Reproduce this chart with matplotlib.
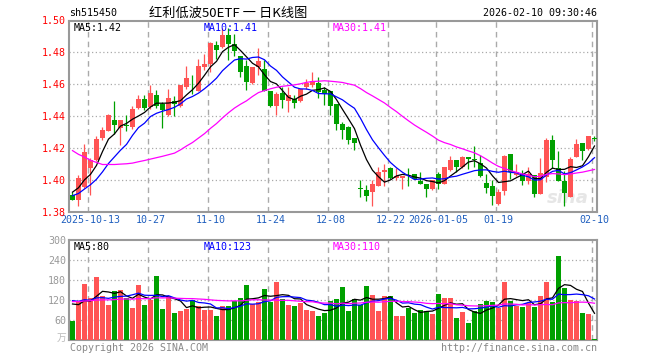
import numpy as np
import pandas as pd
import matplotlib
matplotlib.use("Agg")
from matplotlib import pyplot as plt

# daily bars of sh515450, 2025-09-30 .. 2026-02-10 (88 trading days)
opens = [1.3910, 1.3875, 1.3958, 1.4080, 1.4130, 1.4267, 1.4310, 1.4380, 1.4330, 1.4346,
         1.4333, 1.4454, 1.4506, 1.4458, 1.4531, 1.4479, 1.4406, 1.4496, 1.4463, 1.4583,
         1.4610, 1.4556, 1.4708, 1.4729, 1.4844, 1.4833, 1.4910, 1.4854, 1.4775, 1.4713,
         1.4610, 1.4708, 1.4694, 1.4558, 1.4465, 1.4546, 1.4494, 1.4506, 1.4494, 1.4583,
         1.4594, 1.4608, 1.4567, 1.4558, 1.4479, 1.4350, 1.4333, 1.4265, 1.3952, 1.3942,
         1.3927, 1.3965, 1.4052, 1.4077, 1.4017, 1.4015, 1.4027, 1.4042, 1.3994, 1.3980,
         1.3944, 1.4042, 1.3980, 1.4063, 1.4125, 1.4083, 1.4146, 1.4135, 1.4110, 1.3983,
         1.3965, 1.3850, 1.3933, 1.4163, 1.4031, 1.4031, 1.3996, 1.4031, 1.3913, 1.4021,
         1.4250, 1.4077, 1.3994, 1.3896, 1.4146, 1.4233, 1.4198, 1.4263]
highs = [1.3930, 1.4031, 1.4230, 1.4140, 1.4280, 1.4333, 1.4413, 1.4494, 1.4380, 1.4406,
         1.4463, 1.4531, 1.4531, 1.4594, 1.4563, 1.4490, 1.4573, 1.4525, 1.4594, 1.4715,
         1.4656, 1.4760, 1.4790, 1.4865, 1.4869, 1.4954, 1.4954, 1.4917, 1.4775, 1.4750,
         1.4708, 1.4829, 1.4750, 1.4558, 1.4552, 1.4583, 1.4583, 1.4531, 1.4573, 1.4635,
         1.4677, 1.4646, 1.4583, 1.4558, 1.4479, 1.4365, 1.4338, 1.4265, 1.4000, 1.3969,
         1.4000, 1.4083, 1.4100, 1.4083, 1.4077, 1.4027, 1.4077, 1.4042, 1.4052, 1.3980,
         1.4004, 1.4052, 1.4083, 1.4150, 1.4125, 1.4152, 1.4146, 1.4213, 1.4156, 1.4042,
         1.4000, 1.3948, 1.4156, 1.4163, 1.4104, 1.4063, 1.4083, 1.4031, 1.4140, 1.4265,
         1.4281, 1.4181, 1.4056, 1.4146, 1.4256, 1.4233, 1.4275, 1.4275]
lows = [1.3875, 1.3840, 1.3954, 1.3910, 1.4120, 1.4254, 1.4306, 1.4290, 1.4223, 1.4306,
        1.4323, 1.4448, 1.4438, 1.4448, 1.4454, 1.4330, 1.4400, 1.4400, 1.4460, 1.4573,
        1.4542, 1.4556, 1.4688, 1.4677, 1.4756, 1.4829, 1.4754, 1.4781, 1.4646, 1.4563,
        1.4604, 1.4656, 1.4558, 1.4458, 1.4406, 1.4454, 1.4427, 1.4454, 1.4490, 1.4573,
        1.4583, 1.4517, 1.4469, 1.4406, 1.4313, 1.4260, 1.4229, 1.4192, 1.3896, 1.3871,
        1.3840, 1.3963, 1.3965, 1.4010, 1.4004, 1.3948, 1.3965, 1.4006, 1.3975, 1.3896,
        1.3938, 1.3944, 1.3975, 1.4058, 1.4052, 1.4079, 1.4073, 1.4083, 1.4021, 1.3920,
        1.3844, 1.3848, 1.3910, 1.4006, 1.4025, 1.3969, 1.3975, 1.3896, 1.3913, 1.3990,
        1.4079, 1.3994, 1.3840, 1.3896, 1.4146, 1.4125, 1.4188, 1.4246]
closes = [1.3880, 1.4017, 1.4180, 1.4130, 1.4260, 1.4313, 1.4406, 1.4344, 1.4375, 1.4342,
          1.4446, 1.4506, 1.4454, 1.4546, 1.4463, 1.4442, 1.4513, 1.4480, 1.4594, 1.4642,
          1.4606, 1.4715, 1.4729, 1.4858, 1.4813, 1.4910, 1.4854, 1.4808, 1.4677, 1.4615,
          1.4708, 1.4744, 1.4558, 1.4465, 1.4542, 1.4500, 1.4531, 1.4485, 1.4573, 1.4608,
          1.4619, 1.4552, 1.4538, 1.4463, 1.4354, 1.4313, 1.4254, 1.4233, 1.3948, 1.3902,
          1.3979, 1.4052, 1.4063, 1.4017, 1.4027, 1.4027, 1.4025, 1.4010, 1.3980, 1.3948,
          1.4000, 1.3980, 1.4083, 1.4125, 1.4083, 1.4146, 1.4135, 1.4125, 1.4027, 1.3952,
          1.3902, 1.3927, 1.4150, 1.4052, 1.4052, 1.3996, 1.4038, 1.3917, 1.4048, 1.4250,
          1.4129, 1.3994, 1.3923, 1.4131, 1.4225, 1.4183, 1.4275, 1.4260]
# volume, in 万
volumes = [58, 115, 168, 125, 190, 132, 105, 147, 150, 127,
           97, 165, 105, 120, 193, 93, 132, 81, 87, 93,
           120, 102, 90, 90, 72, 102, 102, 117, 127, 165,
           108, 115, 153, 115, 175, 122, 105, 102, 112, 90,
           87, 72, 80, 118, 123, 160, 87, 123, 105, 162,
           135, 87, 132, 132, 72, 72, 97, 82, 90, 87,
           78, 138, 127, 127, 67, 85, 52, 87, 108, 117,
           115, 97, 175, 117, 102, 100, 110, 100, 132, 175,
           115, 252, 156, 121, 117, 82, 77, 3]

# 29 sessions before the window, only used to seed the moving averages
prior_closes = [1.472, 1.468, 1.475, 1.466, 1.470, 1.440, 1.435, 1.430, 1.428, 1.432,
                1.425, 1.422, 1.428, 1.420, 1.418, 1.422, 1.418, 1.398, 1.392, 1.395,
                1.388, 1.390, 1.386, 1.392, 1.385, 1.388, 1.393, 1.396, 1.398]
prior_volumes = [105, 120, 98, 130, 112, 108, 125, 100, 118, 115,
                 110, 122, 95, 130, 108, 116, 120, 104, 112, 122,
                 135, 120, 140, 118, 127, 125, 110, 130, 117]

holidays = ["2025-10-01", "2025-10-02", "2025-10-03", "2025-10-06", "2025-10-07",
            "2025-10-08", "2026-01-01", "2026-01-02"]
tick_dates = ["2025-10-13", "2025-10-27", "2025-11-10", "2025-11-24", "2025-12-08",
              "2025-12-22", "2026-01-05", "2026-01-19", "2026-02-10"]
tick_labels = ["2025-10-13", "10-27", "11-10", "11-24", "12-08",
               "12-22", "2026-01-05", "01-19", "02-10"]
ma_windows = [5, 10, 30]
ma_colors = ["black", "blue", "magenta"]

RED = "#ff5454"
GREEN = "#00a000"
GRID = "#aaaaaa"
FRAME = "#999999"
MONO = "DejaVu Sans Mono"

dates = pd.bdate_range("2025-09-30", "2026-02-10")
dates = dates[~dates.isin(pd.to_datetime(holidays))]
n = len(closes)
x = np.arange(n)

o = np.array(opens)
h = np.array(highs)
l = np.array(lows)
c = np.array(closes)
v = np.array(volumes)
up = c >= o
colors = np.where(up, RED, GREEN)

all_c = pd.Series(prior_closes + closes)
all_v = pd.Series(prior_volumes + volumes)
price_ma = [all_c.rolling(w).mean().values[-n:] for w in ma_windows]
vol_ma = [all_v.rolling(w).mean().values[-n:] for w in ma_windows]

tick_idx = [dates.get_loc(pd.Timestamp(d)) for d in tick_dates]

fig = plt.figure(figsize=(6.6, 3.6), dpi=100)
W, H = 660.0, 360.0
ax = fig.add_axes([69 / W, 1 - 212.3 / H, 528 / W, 191.8 / H])
vax = fig.add_axes([69 / W, 1 - 340 / H, 528 / W, 100 / H])

bw = 5 / 6.0
xlim = (-0.583, 87.42)

# ---- price panel
ax.vlines(x, l, h, colors=colors, linewidth=0.9, zorder=3)
body = np.maximum(np.abs(c - o), 0.0004)
ax.bar(x, body, bottom=np.minimum(o, c), width=bw, color=colors,
       linewidth=0, zorder=4)
for ma, col in zip(price_ma, ma_colors):
    ax.plot(x, ma, color=col, linewidth=0.9, zorder=5)

ax.set_xlim(*xlim)
ax.set_ylim(1.38, 1.50)
for yv in [1.40, 1.42, 1.44, 1.46, 1.48]:
    ax.axhline(yv, color=GRID, linestyle=(0, (1, 2)), linewidth=0.9, zorder=1)
for xi in tick_idx:
    ax.axvline(xi - 0.42, color=GRID, linestyle=(0, (4, 3)), linewidth=1, zorder=1)
ax.set_yticks([1.38, 1.40, 1.42, 1.44, 1.46, 1.48, 1.50])
ax.set_yticklabels(["%.2f" % t for t in ax.get_yticks()],
                   fontfamily=MONO, fontsize=7.2, color="#ff0000")
ax.set_xticks(tick_idx)
ax.set_xticklabels(tick_labels, fontfamily=MONO, fontsize=7.2, color="#1f5fbf")
ax.tick_params(length=0, pad=2)
for s in ax.spines.values():
    s.set_color(FRAME)
    s.set_linewidth(1.5)

ax.text(0.008, 0.985, "MA5:%.2f" % price_ma[0][-1], transform=ax.transAxes,
        ha="left", va="top", fontfamily=MONO, fontsize=7.2, color="black", zorder=6)
ax.text(0.255, 0.985, "MA10:%.2f" % price_ma[1][-1], transform=ax.transAxes,
        ha="left", va="top", fontfamily=MONO, fontsize=7.2, color="blue", zorder=6)
ax.text(0.5, 0.985, "MA30:%.2f" % price_ma[2][-1], transform=ax.transAxes,
        ha="left", va="top", fontfamily=MONO, fontsize=7.2, color="magenta", zorder=6)
ax.text(0.985, 0.03, "sina", transform=ax.transAxes, ha="right", va="bottom",
        fontsize=13, fontweight="bold", style="italic", color="#e6e6e6", zorder=2)

# ---- volume panel
vax.bar(x, v, width=bw, color=colors, linewidth=0, zorder=3)
for ma, col in zip(vol_ma, ma_colors):
    vax.plot(x, ma, color=col, linewidth=0.9, zorder=5)
vax.set_xlim(*xlim)
vax.set_ylim(0, 300)
for yv in [60, 120, 180, 240]:
    vax.axhline(yv, color=GRID, linestyle=(0, (1, 2)), linewidth=0.9, zorder=1)
for xi in tick_idx:
    vax.axvline(xi - 0.42, color=GRID, linestyle=(0, (4, 3)), linewidth=1, zorder=1)
vax.set_yticks([60, 120, 180, 240, 300])
vax.set_yticklabels([str(t) for t in [60, 120, 180, 240, 300]],
                    fontfamily=MONO, fontsize=7.2, color="#999999")
vax.set_xticks([])
vax.tick_params(length=0, pad=2)
for s in vax.spines.values():
    s.set_color(FRAME)
    s.set_linewidth(1.5)

vax.text(0.008, 0.975, "MA5:%d" % round(vol_ma[0][-1]), transform=vax.transAxes,
         ha="left", va="top", fontfamily=MONO, fontsize=7.2, color="black", zorder=6)
vax.text(0.255, 0.975, "MA10:%d" % round(vol_ma[1][-1]), transform=vax.transAxes,
         ha="left", va="top", fontfamily=MONO, fontsize=7.2, color="blue", zorder=6)
vax.text(0.5, 0.975, "MA30:%d" % round(vol_ma[2][-1]), transform=vax.transAxes,
         ha="left", va="top", fontfamily=MONO, fontsize=7.2, color="magenta", zorder=6)
fig.text(66 / W, 1 - 338 / H, "万", ha="right", va="center",
         fontfamily="Noto Sans CJK SC", fontsize=7, color="#bbbbbb")

# ---- header / footer
fig.text(69 / W, 1 - 13 / H, "sh515450", ha="left", va="center",
         fontfamily=MONO, fontsize=7.2, color="black")
fig.text(149 / W, 1 - 13 / H, "红利低波50ETF 一 日K线图", ha="left", va="center",
         fontfamily=["Noto Sans CJK SC", "DejaVu Sans"], fontsize=9.5, color="black")
fig.text(597 / W, 1 - 13 / H, "2026-02-10 09:30:46", ha="right", va="center",
         fontfamily=MONO, fontsize=7.2, color="black")
fig.text(70 / W, 1 - 348 / H, "Copyright 2026 SINA.COM", ha="left", va="center",
         fontfamily=MONO, fontsize=7.2, color="#888888")
fig.text(597 / W, 1 - 348 / H, "http://finance.sina.com.cn", ha="right", va="center",
         fontfamily=MONO, fontsize=7.2, color="#888888")

fig.savefig("out.png", dpi=100, facecolor="white")
